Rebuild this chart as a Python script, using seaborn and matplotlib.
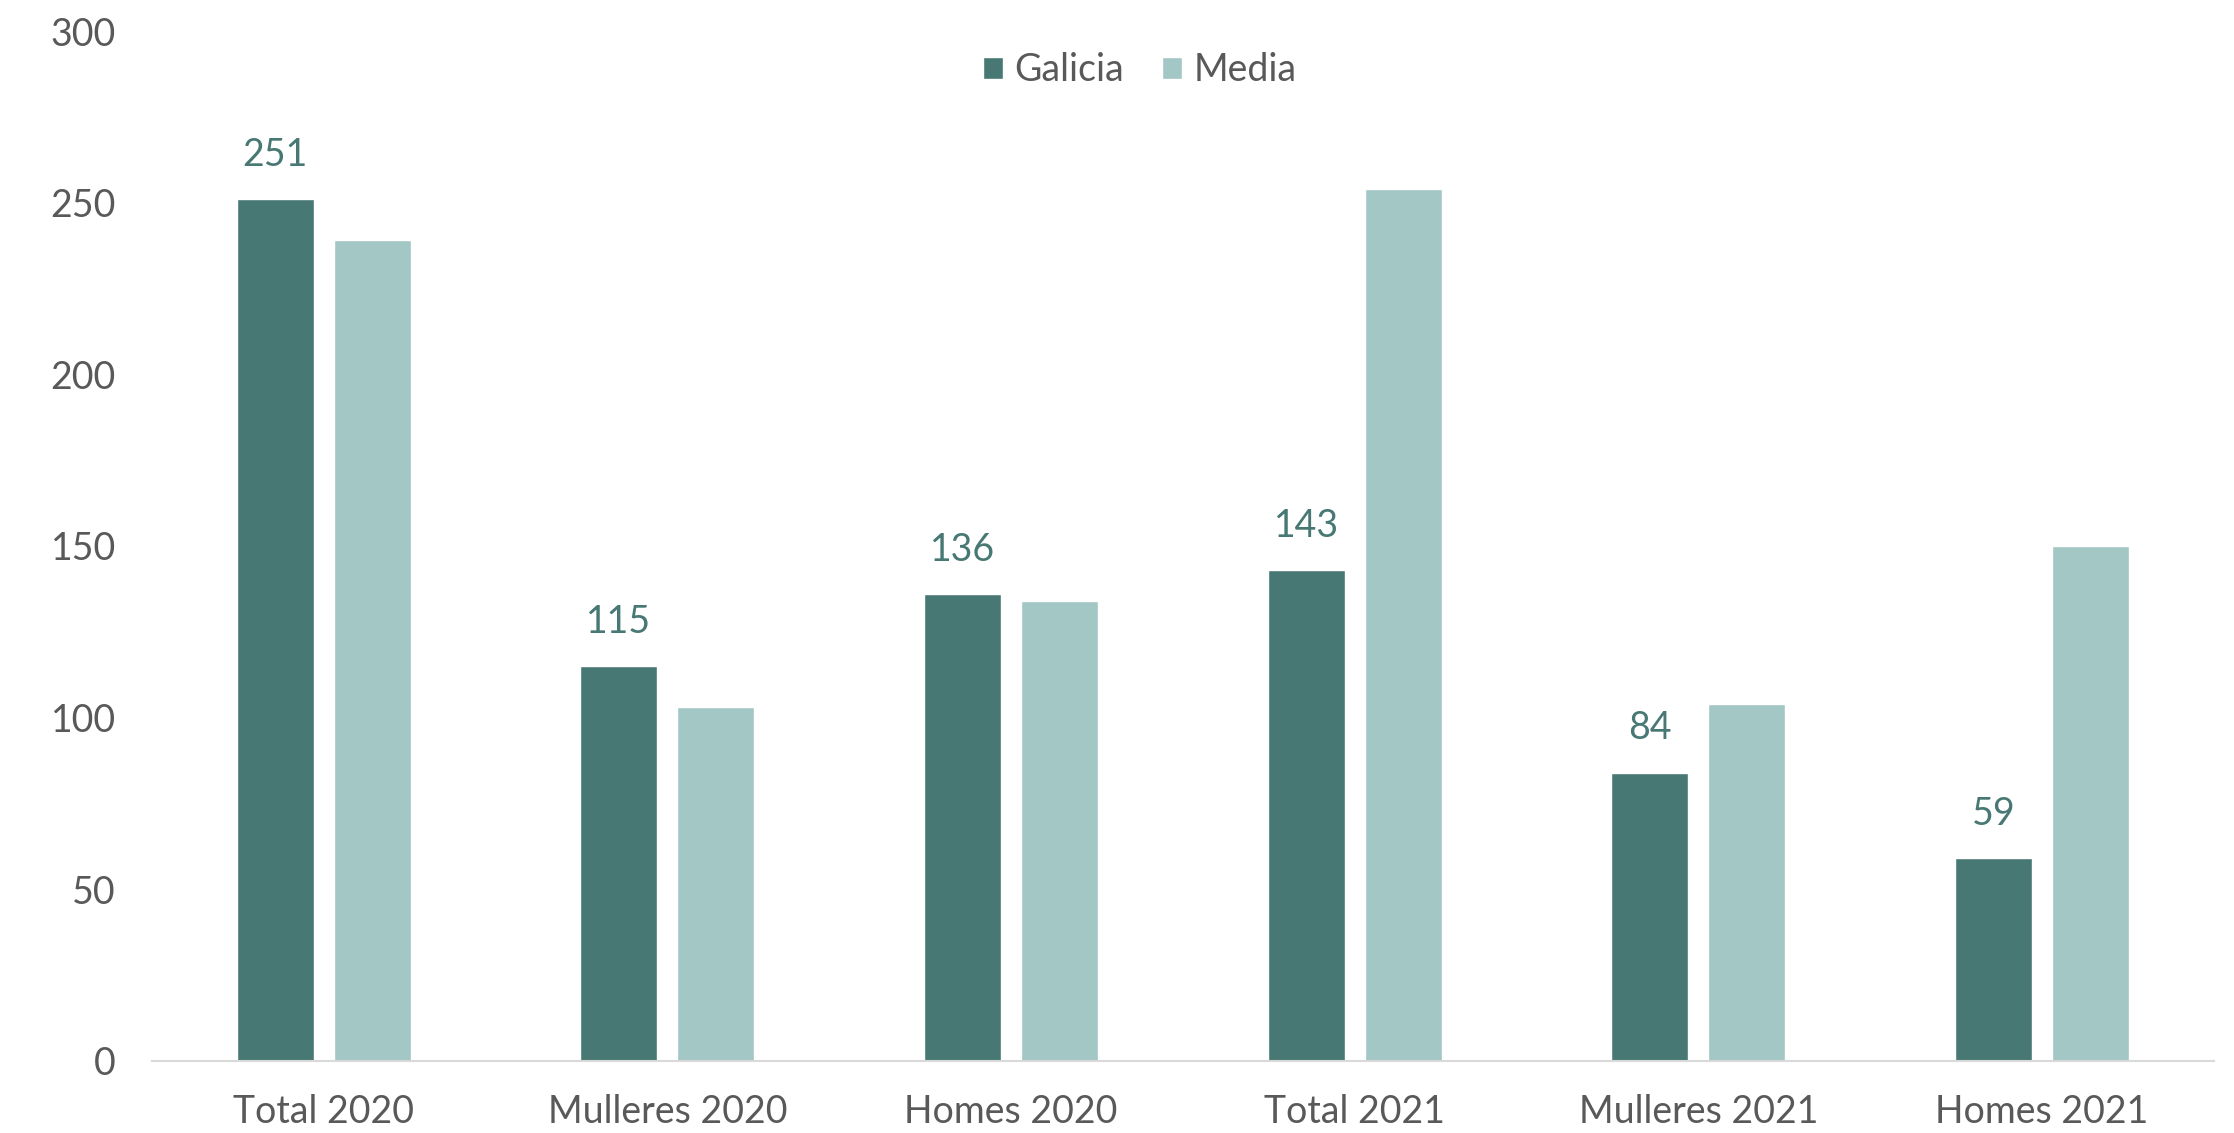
import numpy as np
import pandas as pd
import matplotlib
matplotlib.use("Agg")
import matplotlib.pyplot as plt
import seaborn as sns

categories = ["Total 2020", "Mulleres 2020", "Homes 2020", "Total 2021", "Mulleres 2021", "Homes 2021"]
galicia = [251, 115, 136, 143, 84, 59]
media = [239, 103, 134, 254, 104, 150]
series = ["Galicia", "Media"]
yticks = [0, 50, 100, 150, 200, 250, 300]

colors = {"Galicia": "#477873", "Media": "#A2C7C4"}
text_gray = "#595959"

df = pd.DataFrame({
    "cat": categories * 2,
    "serie": [series[0]] * len(categories) + [series[1]] * len(categories),
    "value": galicia + media,
})

sns.set_style("white")
plt.rcParams["font.family"] = ["Lato", "DejaVu Sans"]

fig = plt.figure(figsize=(22.34, 11.33), dpi=100)
ax = fig.add_axes([0.068, 0.0636, 0.923, 0.909])

sns.barplot(data=df, x="cat", y="value", hue="serie", order=categories,
            hue_order=series, palette=colors, width=0.564, gap=0.206,
            saturation=1, ax=ax)

# only the Galicia bars carry value labels
ax.bar_label(ax.containers[0], labels=[str(v) for v in galicia], padding=19,
             fontsize=27, color="#477873")

ax.set_ylim(0, 300)
ax.set_xlim(-0.5, 5.5)
ax.set_yticks(yticks)
ax.set_xlabel("")
ax.set_ylabel("")
ax.tick_params(axis="both", length=0, labelsize=27, colors=text_gray)
ax.tick_params(axis="y", pad=26)
ax.tick_params(axis="x", pad=24)

for side in ["top", "right", "left"]:
    ax.spines[side].set_visible(False)
ax.spines["bottom"].set_color("#d9d9d9")
ax.spines["bottom"].set_linewidth(1.5)

leg = ax.legend(loc="upper center", bbox_to_anchor=(0.479, 1.012), ncol=2,
                frameon=False, fontsize=27, handlelength=0.55, handleheight=0.55,
                handletextpad=0.3, columnspacing=1.0)
for t in leg.get_texts():
    t.set_color(text_gray)

fig.savefig("out.png", dpi=100)
